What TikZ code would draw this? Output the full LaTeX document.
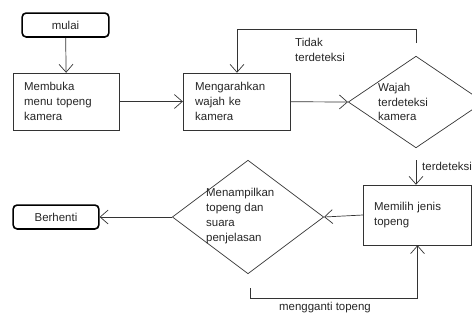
\documentclass[tikz,border=0pt]{standalone}
\usepackage{fontspec}
\setmainfont{Liberation Sans}
\usetikzlibrary{positioning}
\usetikzlibrary{shapes.geometric, arrows.meta, calc}

\tikzset{
  kotak/.style={draw=black!80, line width=0.7pt, rectangle, align=left, anchor=center,
    minimum height=57, text width=85, inner xsep=11},
  ujung/.style={draw=black, line width=1.6pt, rounded corners=4, minimum width=87, minimum height=24},
  belah/.style={draw=black!80, line width=0.7pt, diamond, inner sep=0pt},
  teks/.style={align=left, anchor=west, inner sep=0pt},
  panah/.style={-{Straight Barb[length=8, width=14]}, draw=black!80, line width=0.7pt},
}

\begin{document}
\begin{tikzpicture}[x=1bp, y=-1bp, font=\fontsize{11.5}{14.8}\selectfont, text=black!85]
  \useasboundingbox (0,0) rectangle (472,320);
  \clip (0,0) rectangle (472,320);

  \node[ujung] (mulai) at (65.5,25) {mulai}; %mulai
  \node[kotak, minimum width=107] (buka) at (66.5,101.5) {Membuka\\menu topeng\\kamera};
  \node[kotak, minimum width=108, inner xsep=12, text width=84] (arah) at (237,101.5) {Mengarahkan\\wajah ke\\kamera};
  \node[belah, minimum width=136, minimum height=92] (wajah) at (416,102) {};
  \node[teks] (wajahteks) at (378,102) {Wajah\\terdeteksi\\kamera};
  \node[kotak, minimum width=109, minimum height=60, text width=87] (pilih) at (417.5,215) {Memilih jenis\\topeng};
  \node[belah, minimum width=152, minimum height=114] (tampil) at (248,217) {};
  \node[teks] (tampilteks) at (206,216) {Menampilkan\\topeng dan\\suara\\penjelasan};
  \node[ujung, minimum width=86] (henti) at (56,217) {Berhenti}; %berhenti

  \draw[panah] (mulai) -- (buka);
  \draw[panah] (buka) -- (arah);
  \draw[panah] (arah) -- (wajah.west);

  \coordinate (tidak) at (416,43);
  \draw[panah] (tidak) -- ++(0,-14) -| (arah.north);
  \node[teks] (tidakteks) at (295,50) {Tidak\\terdeteksi};

  \coordinate (deteksi) at (416,160);
  \draw[panah] (deteksi) -- (deteksi |- pilih.north);
  \node[teks] (deteksiteks) at (422,166) {terdeteksi};

  \draw[panah] (pilih.west) -- (tampil.east);
  \draw[panah] (tampil.west) -- (henti.east);

  \coordinate (ganti) at (250,288);
  \draw[panah] (ganti) -- ++(0,10) -| (pilih.south);
  \node (gantiteks) at (325,308) {mengganti topeng};
\end{tikzpicture}
\end{document}
